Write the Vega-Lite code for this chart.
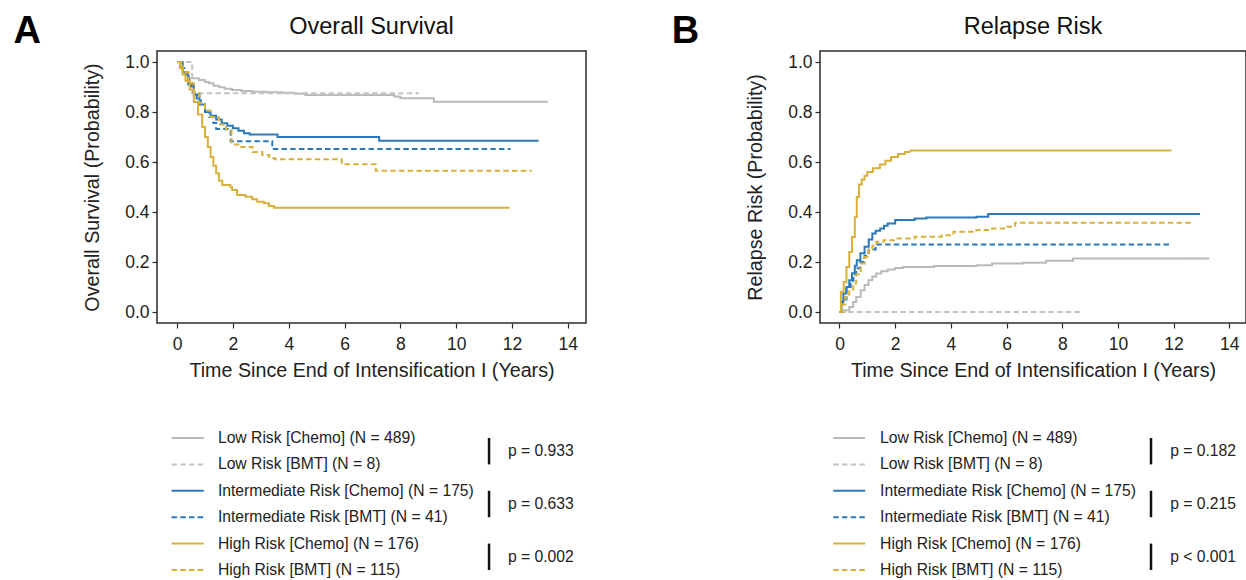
{
  "$schema": "https://vega.github.io/schema/vega-lite/v6.json",
  "padding": {"left": 12, "top": 12, "right": 0, "bottom": 0},
  "config": {
    "font": "Liberation Sans",
    "view": {"stroke": "#2b2b2b", "strokeWidth": 1.5},
    "axis": {"grid": false, "domain": false, "tickColor": "#2b2b2b", "tickSize": 5, "tickWidth": 1.2, "labelFontSize": 17.5, "labelColor": "#222222", "titleFontSize": 19.7, "titleFontWeight": "normal", "titleColor": "#222222"},
    "axisX": {"labelPadding": 7, "titlePadding": 8},
    "axisY": {"labelPadding": 3, "titlePadding": 22}
  },
  "datasets": {
    "os": [
      {"series":"LC","time":0,"prob":1},{"series":"LC","time":0.1,"prob":0.98},{"series":"LC","time":0.2,"prob":0.96},{"series":"LC","time":0.3,"prob":0.945},{"series":"LC","time":0.42,"prob":0.935},{"series":"LC","time":0.78,"prob":0.928},{"series":"LC","time":1.0,"prob":0.92},{"series":"LC","time":1.14,"prob":0.915},{"series":"LC","time":1.3,"prob":0.905},{"series":"LC","time":1.5,"prob":0.899},{"series":"LC","time":1.7,"prob":0.893},{"series":"LC","time":1.97,"prob":0.888},{"series":"LC","time":2.3,"prob":0.884},{"series":"LC","time":2.69,"prob":0.881},{"series":"LC","time":3.2,"prob":0.879},{"series":"LC","time":3.77,"prob":0.877},{"series":"LC","time":4.2,"prob":0.873},{"series":"LC","time":4.6,"prob":0.868},{"series":"LC","time":7.78,"prob":0.862},{"series":"LC","time":8.0,"prob":0.855},{"series":"LC","time":9.2,"prob":0.841},{"series":"LC","time":13.28,"prob":0.841},
      {"series":"LB","time":0,"prob":1},{"series":"LB","time":0.54,"prob":0.875},{"series":"LB","time":8.67,"prob":0.875},
      {"series":"IC","time":0,"prob":1},{"series":"IC","time":0.2,"prob":0.96},{"series":"IC","time":0.4,"prob":0.91},{"series":"IC","time":0.6,"prob":0.87},{"series":"IC","time":0.8,"prob":0.83},{"series":"IC","time":1.0,"prob":0.8},{"series":"IC","time":1.2,"prob":0.785},{"series":"IC","time":1.4,"prob":0.77},{"series":"IC","time":1.6,"prob":0.755},{"series":"IC","time":1.8,"prob":0.745},{"series":"IC","time":2.0,"prob":0.735},{"series":"IC","time":2.2,"prob":0.725},{"series":"IC","time":2.4,"prob":0.715},{"series":"IC","time":2.6,"prob":0.71},{"series":"IC","time":3.6,"prob":0.7},{"series":"IC","time":7.24,"prob":0.685},{"series":"IC","time":12.95,"prob":0.685},
      {"series":"IB","time":0,"prob":1},{"series":"IB","time":0.15,"prob":0.976},{"series":"IB","time":0.3,"prob":0.951},{"series":"IB","time":0.4,"prob":0.927},{"series":"IB","time":0.5,"prob":0.902},{"series":"IB","time":0.6,"prob":0.878},{"series":"IB","time":0.7,"prob":0.854},{"series":"IB","time":0.85,"prob":0.829},{"series":"IB","time":1.0,"prob":0.805},{"series":"IB","time":1.15,"prob":0.78},{"series":"IB","time":1.3,"prob":0.756},{"series":"IB","time":1.4,"prob":0.732},{"series":"IB","time":1.92,"prob":0.683},{"series":"IB","time":3.41,"prob":0.652},{"series":"IB","time":11.95,"prob":0.652},
      {"series":"HC","time":0,"prob":1},{"series":"HC","time":0.1,"prob":0.975},{"series":"HC","time":0.2,"prob":0.95},{"series":"HC","time":0.3,"prob":0.925},{"series":"HC","time":0.45,"prob":0.89},{"series":"HC","time":0.6,"prob":0.84},{"series":"HC","time":0.75,"prob":0.79},{"series":"HC","time":0.9,"prob":0.74},{"series":"HC","time":1.0,"prob":0.7},{"series":"HC","time":1.1,"prob":0.66},{"series":"HC","time":1.2,"prob":0.62},{"series":"HC","time":1.3,"prob":0.585},{"series":"HC","time":1.4,"prob":0.555},{"series":"HC","time":1.5,"prob":0.525},{"series":"HC","time":1.62,"prob":0.508},{"series":"HC","time":1.91,"prob":0.5},{"series":"HC","time":1.97,"prob":0.488},{"series":"HC","time":2.15,"prob":0.468},{"series":"HC","time":2.45,"prob":0.461},{"series":"HC","time":2.69,"prob":0.451},{"series":"HC","time":2.87,"prob":0.441},{"series":"HC","time":3.11,"prob":0.435},{"series":"HC","time":3.29,"prob":0.424},{"series":"HC","time":3.47,"prob":0.417},{"series":"HC","time":11.92,"prob":0.417},
      {"series":"HB","time":0,"prob":1},{"series":"HB","time":0.2,"prob":0.96},{"series":"HB","time":0.4,"prob":0.915},{"series":"HB","time":0.6,"prob":0.875},{"series":"HB","time":0.8,"prob":0.835},{"series":"HB","time":1.0,"prob":0.805},{"series":"HB","time":1.2,"prob":0.78},{"series":"HB","time":1.5,"prob":0.75},{"series":"HB","time":1.75,"prob":0.73},{"series":"HB","time":1.95,"prob":0.67},{"series":"HB","time":2.3,"prob":0.66},{"series":"HB","time":2.7,"prob":0.64},{"series":"HB","time":3.05,"prob":0.628},{"series":"HB","time":3.3,"prob":0.615},{"series":"HB","time":3.5,"prob":0.611},{"series":"HB","time":5.9,"prob":0.591},{"series":"HB","time":7.12,"prob":0.565},{"series":"HB","time":12.7,"prob":0.565}
    ],
    "rr": [
      {"series":"LC","time":0,"prob":0},{"series":"LC","time":0.2,"prob":0.007},{"series":"LC","time":0.35,"prob":0.02},{"series":"LC","time":0.49,"prob":0.04},{"series":"LC","time":0.6,"prob":0.06},{"series":"LC","time":0.76,"prob":0.087},{"series":"LC","time":0.9,"prob":0.108},{"series":"LC","time":1.04,"prob":0.127},{"series":"LC","time":1.18,"prob":0.142},{"series":"LC","time":1.32,"prob":0.154},{"series":"LC","time":1.5,"prob":0.163},{"series":"LC","time":1.73,"prob":0.17},{"series":"LC","time":2.0,"prob":0.176},{"series":"LC","time":2.29,"prob":0.18},{"series":"LC","time":3.4,"prob":0.184},{"series":"LC","time":4.92,"prob":0.187},{"series":"LC","time":5.48,"prob":0.194},{"series":"LC","time":6.58,"prob":0.197},{"series":"LC","time":7.42,"prob":0.205},{"series":"LC","time":8.39,"prob":0.214},{"series":"LC","time":13.28,"prob":0.214},
      {"series":"LB","time":0,"prob":0},{"series":"LB","time":8.67,"prob":0},
      {"series":"IC","time":0,"prob":0},{"series":"IC","time":0.07,"prob":0.04},{"series":"IC","time":0.14,"prob":0.074},{"series":"IC","time":0.25,"prob":0.1},{"series":"IC","time":0.35,"prob":0.127},{"series":"IC","time":0.45,"prob":0.155},{"series":"IC","time":0.55,"prob":0.185},{"series":"IC","time":0.62,"prob":0.207},{"series":"IC","time":0.75,"prob":0.235},{"series":"IC","time":0.9,"prob":0.261},{"series":"IC","time":1.05,"prob":0.29},{"series":"IC","time":1.18,"prob":0.314},{"series":"IC","time":1.3,"prob":0.325},{"series":"IC","time":1.46,"prob":0.334},{"series":"IC","time":1.6,"prob":0.345},{"series":"IC","time":1.73,"prob":0.354},{"series":"IC","time":2.0,"prob":0.368},{"series":"IC","time":2.7,"prob":0.374},{"series":"IC","time":3.12,"prob":0.378},{"series":"IC","time":4.92,"prob":0.381},{"series":"IC","time":5.34,"prob":0.392},{"series":"IC","time":12.95,"prob":0.392},
      {"series":"IB","time":0,"prob":0},{"series":"IB","time":0.1,"prob":0.05},{"series":"IB","time":0.25,"prob":0.1},{"series":"IB","time":0.4,"prob":0.125},{"series":"IB","time":0.5,"prob":0.15},{"series":"IB","time":0.6,"prob":0.175},{"series":"IB","time":0.75,"prob":0.2},{"series":"IB","time":0.9,"prob":0.225},{"series":"IB","time":1.05,"prob":0.25},{"series":"IB","time":1.3,"prob":0.27},{"series":"IB","time":11.95,"prob":0.27},
      {"series":"HC","time":0,"prob":0},{"series":"HC","time":0.05,"prob":0.08},{"series":"HC","time":0.15,"prob":0.12},{"series":"HC","time":0.25,"prob":0.18},{"series":"HC","time":0.35,"prob":0.24},{"series":"HC","time":0.45,"prob":0.3},{"series":"HC","time":0.55,"prob":0.38},{"series":"HC","time":0.62,"prob":0.46},{"series":"HC","time":0.7,"prob":0.51},{"series":"HC","time":0.8,"prob":0.53},{"series":"HC","time":0.9,"prob":0.545},{"series":"HC","time":1.0,"prob":0.56},{"series":"HC","time":1.2,"prob":0.575},{"series":"HC","time":1.45,"prob":0.59},{"series":"HC","time":1.65,"prob":0.605},{"series":"HC","time":1.85,"prob":0.62},{"series":"HC","time":2.1,"prob":0.632},{"series":"HC","time":2.35,"prob":0.64},{"series":"HC","time":2.55,"prob":0.646},{"series":"HC","time":11.92,"prob":0.646},
      {"series":"HB","time":0,"prob":0},{"series":"HB","time":0.1,"prob":0.03},{"series":"HB","time":0.21,"prob":0.06},{"series":"HB","time":0.35,"prob":0.09},{"series":"HB","time":0.49,"prob":0.114},{"series":"HB","time":0.6,"prob":0.15},{"series":"HB","time":0.76,"prob":0.194},{"series":"HB","time":0.9,"prob":0.22},{"series":"HB","time":1.04,"prob":0.247},{"series":"HB","time":1.18,"prob":0.265},{"series":"HB","time":1.32,"prob":0.281},{"series":"HB","time":1.59,"prob":0.287},{"series":"HB","time":2.0,"prob":0.294},{"series":"HB","time":2.7,"prob":0.301},{"series":"HB","time":3.67,"prob":0.307},{"series":"HB","time":4.09,"prob":0.321},{"series":"HB","time":4.92,"prob":0.328},{"series":"HB","time":5.48,"prob":0.334},{"series":"HB","time":6.03,"prob":0.341},{"series":"HB","time":6.31,"prob":0.357},{"series":"HB","time":12.7,"prob":0.357}
    ],
    "legend": [
      {"series":"LC","label":"Low Risk [Chemo] (N = 489)"},
      {"series":"LB","label":"Low Risk [BMT] (N = 8)"},
      {"series":"IC","label":"Intermediate Risk [Chemo] (N = 175)"},
      {"series":"IB","label":"Intermediate Risk [BMT] (N = 41)"},
      {"series":"HC","label":"High Risk [Chemo] (N = 176)"},
      {"series":"HB","label":"High Risk [BMT] (N = 115)"}
    ],
    "pA": [
      {"top":"LC","bottom":"LB","p":"p = 0.933"},
      {"top":"IC","bottom":"IB","p":"p = 0.633"},
      {"top":"HC","bottom":"HB","p":"p = 0.002"}
    ],
    "pB": [
      {"top":"LC","bottom":"LB","p":"p = 0.182"},
      {"top":"IC","bottom":"IB","p":"p = 0.215"},
      {"top":"HC","bottom":"HB","p":"p < 0.001"}
    ],
    "headA": [{"letter":"A","title":"Overall Survival"}],
    "headB": [{"letter":"B","title":"Relapse Risk"}]
  },
  "resolve": {"scale": {"x": "independent", "y": "independent"}},
  "spacing": 84,
  "hconcat": [
    {
      "spacing": 49,
      "resolve": {"scale": {"x": "independent", "y": "independent"}},
      "vconcat": [
        {
          "width": 429, "height": 272,
          "layer": [
            {
              "data": {"name": "os"},
              "mark": {"type": "line", "interpolate": "step-after", "strokeWidth": 2},
              "encoding": {
                "x": {"field": "time", "type": "quantitative", "scale": {"domain": [-0.72, 14.65], "nice": false, "zero": false}, "axis": {"values": [0,2,4,6,8,10,12,14], "title": "Time Since End of Intensification I (Years)"}},
                "y": {"field": "prob", "type": "quantitative", "scale": {"domain": [-0.044, 1.044], "nice": false, "zero": false}, "axis": {"values": [0,0.2,0.4,0.6,0.8,1.0], "format": ".1f", "title": "Overall Survival (Probability)"}},
                "color": {"field": "series", "type": "nominal", "legend": null, "scale": {"domain": ["LC","LB","IC","IB","HC","HB"], "range": ["#bababa","#c4c4c4","#2b79bb","#2b79bb","#d9b03b","#d9b03b"]}},
                "strokeDash": {"field": "series", "type": "nominal", "legend": null, "scale": {"domain": ["LC","LB","IC","IB","HC","HB"], "range": [[1,0],[5.5,3.2],[1,0],[5.5,3.2],[1,0],[5.5,3.2]]}}
              }
            },
            {
              "data": {"name": "headA"},
              "mark": {"type": "text", "fontSize": 38, "fontWeight": "bold", "align": "left", "baseline": "alphabetic", "color": "#000000"},
              "encoding": {
                "x": {"datum": -5.86, "type": "quantitative"},
                "y": {"datum": 1.076, "type": "quantitative"},
                "text": {"field": "letter"}
              }
            },
            {
              "data": {"name": "headA"},
              "mark": {"type": "text", "fontSize": 23.5, "align": "center", "baseline": "alphabetic", "color": "#111111"},
              "encoding": {
                "x": {"datum": 6.965, "type": "quantitative"},
                "y": {"datum": 1.1136, "type": "quantitative"},
                "text": {"field": "title"}
              }
            }
          ]
        },
        {
          "width": 429, "height": 132,
          "view": {"stroke": null},
          "layer": [
            {
              "data": {"name": "legend"},
              "mark": {"type": "rule", "strokeWidth": 2},
              "encoding": {
                "y": {"field": "series", "type": "nominal", "scale": {"type": "point", "padding": 0, "domain": ["LC","LB","IC","IB","HC","HB"]}, "axis": null},
                "x": {"datum": 3.4, "type": "quantitative", "scale": {"domain": [0, 100], "nice": false, "zero": false}, "axis": null},
                "x2": {"datum": 10.9},
                "color": {"field": "series", "type": "nominal", "legend": null, "scale": {"domain": ["LC","LB","IC","IB","HC","HB"], "range": ["#bababa","#c4c4c4","#2b79bb","#2b79bb","#d9b03b","#d9b03b"]}},
                "strokeDash": {"field": "series", "type": "nominal", "legend": null, "scale": {"domain": ["LC","LB","IC","IB","HC","HB"], "range": [[1,0],[5.5,3.2],[1,0],[5.5,3.2],[1,0],[5.5,3.2]]}}
              }
            },
            {
              "data": {"name": "legend"},
              "mark": {"type": "text", "fontSize": 15.7, "align": "left", "baseline": "middle", "color": "#222222"},
              "encoding": {
                "y": {"field": "series", "type": "nominal", "scale": {"type": "point", "padding": 0, "domain": ["LC","LB","IC","IB","HC","HB"]}, "axis": null},
                "x": {"datum": 14.2, "type": "quantitative"},
                "text": {"field": "label"}
              }
            },
            {
              "data": {"name": "pA"},
              "mark": {"type": "rule", "strokeWidth": 2.5, "color": "#111111"},
              "encoding": {
                "y": {"field": "top", "type": "nominal", "scale": {"type": "point", "padding": 0, "domain": ["LC","LB","IC","IB","HC","HB"]}, "axis": null},
                "y2": {"field": "bottom"},
                "x": {"datum": 77.4, "type": "quantitative"}
              }
            },
            {
              "data": {"name": "pA"},
              "mark": {"type": "text", "fontSize": 15.7, "align": "left", "baseline": "middle", "dy": 13.2, "color": "#222222"},
              "encoding": {
                "y": {"field": "top", "type": "nominal", "scale": {"type": "point", "padding": 0, "domain": ["LC","LB","IC","IB","HC","HB"]}, "axis": null},
                "x": {"datum": 81.8, "type": "quantitative"},
                "text": {"field": "p"}
              }
            }
          ]
        }
      ]
    },
    {
      "spacing": 49,
      "resolve": {"scale": {"x": "independent", "y": "independent"}},
      "vconcat": [
        {
          "width": 426, "height": 272,
          "layer": [
            {
              "data": {"name": "rr"},
              "mark": {"type": "line", "interpolate": "step-after", "strokeWidth": 2},
              "encoding": {
                "x": {"field": "time", "type": "quantitative", "scale": {"domain": [-0.7, 14.6], "nice": false, "zero": false}, "axis": {"values": [0,2,4,6,8,10,12,14], "title": "Time Since End of Intensification I (Years)"}},
                "y": {"field": "prob", "type": "quantitative", "scale": {"domain": [-0.044, 1.044], "nice": false, "zero": false}, "axis": {"values": [0,0.2,0.4,0.6,0.8,1.0], "format": ".1f", "title": "Relapse Risk (Probability)"}},
                "color": {"field": "series", "type": "nominal", "legend": null, "scale": {"domain": ["LC","LB","IC","IB","HC","HB"], "range": ["#bababa","#c4c4c4","#2b79bb","#2b79bb","#d9b03b","#d9b03b"]}},
                "strokeDash": {"field": "series", "type": "nominal", "legend": null, "scale": {"domain": ["LC","LB","IC","IB","HC","HB"], "range": [[1,0],[5.5,3.2],[1,0],[5.5,3.2],[1,0],[5.5,3.2]]}}
              }
            },
            {
              "data": {"name": "headB"},
              "mark": {"type": "text", "fontSize": 38, "fontWeight": "bold", "align": "left", "baseline": "alphabetic", "color": "#000000"},
              "encoding": {
                "x": {"datum": -6.02, "type": "quantitative"},
                "y": {"datum": 1.076, "type": "quantitative"},
                "text": {"field": "letter"}
              }
            },
            {
              "data": {"name": "headB"},
              "mark": {"type": "text", "fontSize": 23.5, "align": "center", "baseline": "alphabetic", "color": "#111111"},
              "encoding": {
                "x": {"datum": 6.95, "type": "quantitative"},
                "y": {"datum": 1.1136, "type": "quantitative"},
                "text": {"field": "title"}
              }
            }
          ]
        },
        {
          "width": 426, "height": 132,
          "view": {"stroke": null},
          "layer": [
            {
              "data": {"name": "legend"},
              "mark": {"type": "rule", "strokeWidth": 2},
              "encoding": {
                "y": {"field": "series", "type": "nominal", "scale": {"type": "point", "padding": 0, "domain": ["LC","LB","IC","IB","HC","HB"]}, "axis": null},
                "x": {"datum": 3.1, "type": "quantitative", "scale": {"domain": [0, 100], "nice": false, "zero": false}, "axis": null},
                "x2": {"datum": 10.6},
                "color": {"field": "series", "type": "nominal", "legend": null, "scale": {"domain": ["LC","LB","IC","IB","HC","HB"], "range": ["#bababa","#c4c4c4","#2b79bb","#2b79bb","#d9b03b","#d9b03b"]}},
                "strokeDash": {"field": "series", "type": "nominal", "legend": null, "scale": {"domain": ["LC","LB","IC","IB","HC","HB"], "range": [[1,0],[5.5,3.2],[1,0],[5.5,3.2],[1,0],[5.5,3.2]]}}
              }
            },
            {
              "data": {"name": "legend"},
              "mark": {"type": "text", "fontSize": 15.7, "align": "left", "baseline": "middle", "color": "#222222"},
              "encoding": {
                "y": {"field": "series", "type": "nominal", "scale": {"type": "point", "padding": 0, "domain": ["LC","LB","IC","IB","HC","HB"]}, "axis": null},
                "x": {"datum": 14.1, "type": "quantitative"},
                "text": {"field": "label"}
              }
            },
            {
              "data": {"name": "pB"},
              "mark": {"type": "rule", "strokeWidth": 2.5, "color": "#111111"},
              "encoding": {
                "y": {"field": "top", "type": "nominal", "scale": {"type": "point", "padding": 0, "domain": ["LC","LB","IC","IB","HC","HB"]}, "axis": null},
                "y2": {"field": "bottom"},
                "x": {"datum": 77.7, "type": "quantitative"}
              }
            },
            {
              "data": {"name": "pB"},
              "mark": {"type": "text", "fontSize": 15.7, "align": "left", "baseline": "middle", "dy": 13.2, "color": "#222222"},
              "encoding": {
                "y": {"field": "top", "type": "nominal", "scale": {"type": "point", "padding": 0, "domain": ["LC","LB","IC","IB","HC","HB"]}, "axis": null},
                "x": {"datum": 82.2, "type": "quantitative"},
                "text": {"field": "p"}
              }
            }
          ]
        }
      ]
    }
  ]
}
